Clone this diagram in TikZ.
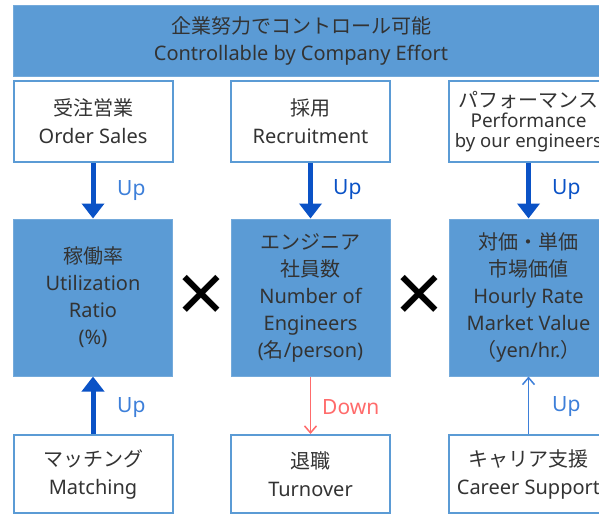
\documentclass[tikz,border=0pt]{standalone}
\usepackage{fontspec}
\setmainfont{Noto Sans}
\newfontfamily\jp{Noto Sans CJK JP}
\usetikzlibrary{arrows.meta}
\definecolor{boxblue}{HTML}{5B9BD5}
\definecolor{arrowblue}{HTML}{0A52C6}
\definecolor{upblue}{HTML}{3D7FD9}
\definecolor{downred}{HTML}{FF6B6B}
\definecolor{txt}{HTML}{333333}
\begin{document}
\begin{tikzpicture}[x=1pt,y=-1pt,
	lever/.style={draw=boxblue,line width=2pt,fill=white,text=txt,align=center,minimum width=159pt,inner sep=0pt,font=\fontsize{20}{28}\selectfont},
	metric/.style={draw=boxblue!85!white,line width=1pt,fill=boxblue,text=txt,align=center,minimum width=159pt,minimum height=157pt,inner sep=0pt,font=\fontsize{20}{27}\selectfont},
	push/.style={draw=arrowblue,line width=5pt,-{Triangle[width=22pt,length=15pt]}},
	nudge/.style={line width=1.5pt,-{Straight Barb[width=12pt,length=7pt,line width=1.5pt]}},
	tag/.style={anchor=west,inner sep=0pt,font=\fontsize{21}{21}\selectfont},
	times/.style={inner sep=0pt,font=\fontsize{84}{84}\selectfont}]
		\useasboundingbox (0,0) rectangle (599,514);
		\clip (0,0) rectangle (599,514);
		\node[fill=boxblue,draw=boxblue!85!white,minimum width=620pt,minimum height=71pt,anchor=west] (band) at (13,40.5) {};
		\node[text=txt,align=center,font=\fontsize{20}{27}\selectfont] (bandtext) at (301,40.5) {{\jp 企業努力でコントロール可能}\\Controllable by Company Effort};
		\node[lever,minimum height=81pt] (sales) at (93,121.5) {{\jp 受注営業}\\Order Sales};
		\node[lever,minimum height=81pt] (hire) at (310.5,121.5) {{\jp 採用}\\Recruitment};
		\node[lever,minimum height=81pt,font=\fontsize{19}{20}\selectfont] (perf) at (528.5,121.5) {{\jp\fontsize{20}{20}\selectfont パフォーマンス}\\Performance\\{\fontsize{18.5}{20}\selectfont by our engineers}};
		\node[metric] (util) at (93,297.5) {{\jp 稼働率}\\Utilization\\Ratio\\(\%)};
		\node[metric] (staff) at (310.5,297.5) {{\jp エンジニア}\\{\jp 社員数}\\Number of\\Engineers\\({\jp 名}/person)};
		\node[metric] (rate) at (528.5,297.5) {{\jp 対価・単価}\\{\jp 市場価値}\\Hourly Rate\\Market Value\\{\jp （}yen/hr.{\jp ）}};
		\node[lever,minimum height=78pt] (match) at (93,474) {{\jp マッチング}\\Matching};
		\node[lever,minimum height=78pt] (quit) at (310.5,474) {{\jp 退職}\\Turnover};
		\node[lever,minimum height=78pt] (career) at (528.5,474) {{\jp キャリア支援}\\Career Support};
		\node[times] (times1) at (202,299) {×};
		\node[times] (times2) at (420,299) {×};
		\draw[push] (sales) -- (util);
		\draw[push] (hire) -- (staff);
		\draw[push] (perf) -- (rate);
		\draw[push] (match) -- (util);
		\draw[nudge,draw=downred] (staff) -- (quit);
		\draw[nudge,draw=upblue] (career) -- (rate);
		\node[tag,text=upblue] (upA) at (117,191) {Up};
		\node[tag,text=arrowblue,font=\fontsize{21}{21}\bfseries] (upB) at (333,190) {Up};
		\node[tag,text=arrowblue,font=\fontsize{21}{21}\bfseries] (upC) at (552,190) {Up};
		\node[tag,text=upblue] (upD) at (117,408) {Up};
		\node[tag,text=downred] (down) at (322,407) {Down};
		\node[tag,text=upblue] (upE) at (552,407) {Up};
	\end{tikzpicture}
\end{document}
